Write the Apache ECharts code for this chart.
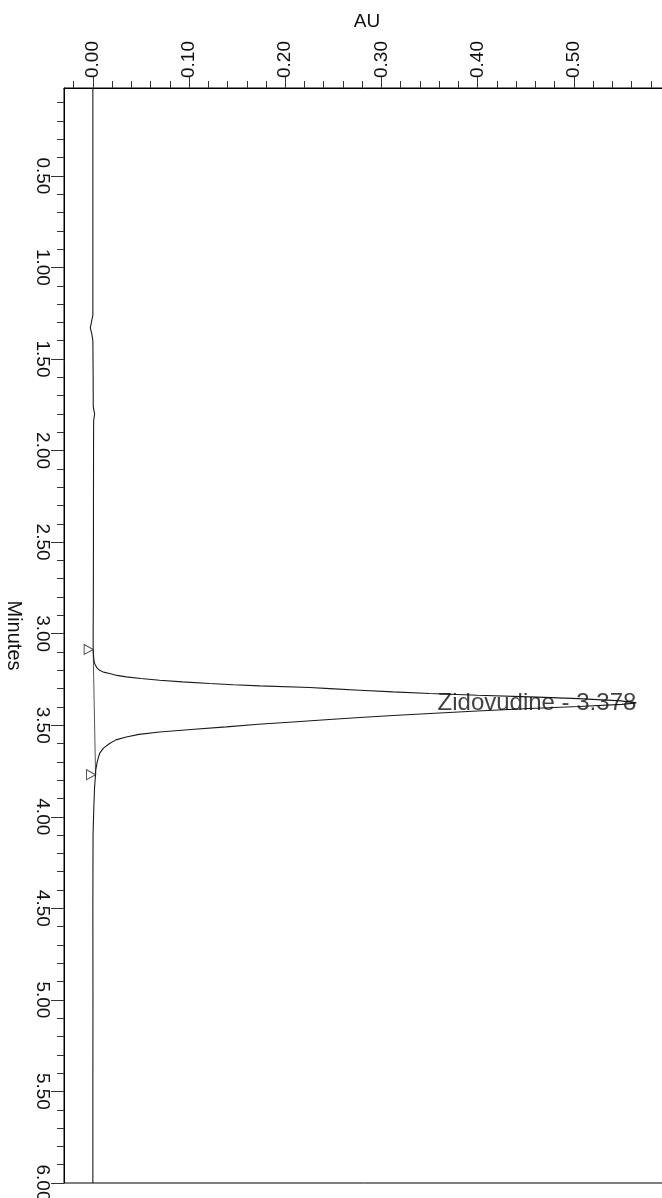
<!DOCTYPE html>
<html>
<head>
<meta charset="utf-8">
<title>Zidovudine chromatogram</title>
<script src="https://cdn.jsdelivr.net/npm/echarts@6/dist/echarts.min.js"></script>
<style>
  html, body { margin: 0; padding: 0; background: #fff; }
  #chart { width: 662px; height: 1198px; }
</style>
</head>
<body>
<div id="chart"></div>
<script>
// Retention time (min) and detector response (AU) of the trace
const timeMin = [
  0.02, 0.50, 1.00, 1.20, 1.26, 1.30, 1.33, 1.36, 1.40, 1.60, 1.76, 1.80, 1.84,
  2.00, 2.50, 2.80, 3.00, 3.086, 3.14, 3.163, 3.185, 3.200, 3.210, 3.218, 3.228,
  3.236, 3.245, 3.254, 3.263, 3.272, 3.279, 3.285, 3.294, 3.300, 3.309, 3.318,
  3.327, 3.336, 3.345, 3.355, 3.367, 3.378, 3.386, 3.398, 3.409, 3.422, 3.436,
  3.447, 3.458, 3.470, 3.482, 3.495, 3.509, 3.523, 3.537, 3.550, 3.564, 3.580,
  3.600, 3.625, 3.654, 3.700, 3.746, 3.770, 3.837, 3.950, 4.100, 4.500, 5.000,
  5.500, 6.000
];
const absAU = [
  0.0000, 0.0000, 0.0000, 0.0000, 0.0000, -0.0015, -0.0027, -0.0012, 0.0000, 0.0003, 0.0004, 0.0018, 0.0008,
  0.0007, 0.0006, 0.0005, 0.0003, 0.0003, 0.0010, 0.0018, 0.0040, 0.0070, 0.0110, 0.0174, 0.0250,
  0.0347, 0.0500, 0.0694, 0.0930, 0.1214, 0.1460, 0.1735, 0.2255, 0.2463, 0.2775, 0.3120,
  0.3504, 0.4000, 0.4545, 0.5050, 0.5490, 0.5650, 0.5500, 0.5050, 0.4545, 0.4000, 0.3504,
  0.3120, 0.2775, 0.2420, 0.2081, 0.1720, 0.1387, 0.1020, 0.0694, 0.0480, 0.0347, 0.0240,
  0.0174, 0.0110, 0.0070, 0.0045, 0.0030, 0.0028, 0.0018, 0.0010, 0.0002, 0.0000, 0.0001,
  0.0000, 0.0000
];

// Peak identification
const peakName = 'Zidovudine';
const peakTime = 3.378;
const peakAU = 0.5650;

// Integration start / end points [time, AU]
const peakStart = [3.086, 0.0003];
const peakEnd = [3.770, 0.0028];

// Axis ticks
const auLabels = [0.00, 0.10, 0.20, 0.30, 0.40, 0.50];
const auMinor = [-0.02, 0.02, 0.04, 0.06, 0.08, 0.12, 0.14, 0.16, 0.18, 0.22, 0.24, 0.26, 0.28,
  0.32, 0.34, 0.36, 0.38, 0.42, 0.44, 0.46, 0.48, 0.52, 0.54, 0.56, 0.58];
const minLabels = [0.50, 1.00, 1.50, 2.00, 2.50, 3.00, 3.50, 4.00, 4.50, 5.00, 5.50, 6.00];
const minMinor = [0.1, 0.2, 0.3, 0.4, 0.6, 0.7, 0.8, 0.9, 1.1, 1.2, 1.3, 1.4, 1.6, 1.7, 1.8, 1.9,
  2.1, 2.2, 2.3, 2.4, 2.6, 2.7, 2.8, 2.9, 3.1, 3.2, 3.3, 3.4, 3.6, 3.7, 3.8, 3.9,
  4.1, 4.2, 4.3, 4.4, 4.6, 4.7, 4.8, 4.9, 5.1, 5.2, 5.3, 5.4, 5.6, 5.7, 5.8, 5.9];

const AU_MIN = -0.03, AU_MAX = 0.6;
const T_MIN = 0.02, T_MAX = 6.0;

const font = '"Liberation Sans", Arial, sans-serif';
const ink = '#111';

const trace = timeMin.map((t, i) => [absAU[i], t]);

const chart = echarts.init(document.getElementById('chart'), null, { renderer: 'canvas' });
chart.setOption({
  animation: false,
  backgroundColor: '#fff',
  grid: {
    left: 64, top: 88, right: -8, bottom: 15,
    outerBoundsMode: 'none', containLabel: false,
    show: true, borderColor: '#000', borderWidth: 1, backgroundColor: 'transparent'
  },
  xAxis: [
    {
      type: 'value', position: 'top', min: AU_MIN, max: AU_MAX,
      name: 'AU', nameLocation: 'middle', nameGap: 66, nameMoveOverlap: false,
      nameTextStyle: { fontFamily: font, fontSize: 19, color: ink, align: 'center', verticalAlign: 'middle' },
      axisLine: { show: true, onZero: false, lineStyle: { color: '#000', width: 1 } },
      splitLine: { show: false },
      axisTick: { show: true, customValues: auLabels, length: 11, lineStyle: { color: '#333' } },
      axisLabel: {
        show: true, customValues: auLabels, rotate: -90, margin: 10,
        align: 'left', verticalAlign: 'middle',
        fontFamily: font, fontSize: 19, color: ink,
        formatter: v => v.toFixed(2)
      }
    },
    {
      type: 'value', position: 'top', min: AU_MIN, max: AU_MAX,
      axisLine: { show: false, onZero: false }, splitLine: { show: false }, axisLabel: { show: false },
      axisTick: { show: true, customValues: auMinor, length: 7, lineStyle: { color: '#333' } }
    }
  ],
  yAxis: [
    {
      type: 'value', position: 'left', inverse: true, min: T_MIN, max: T_MAX,
      name: 'Minutes', nameLocation: 'middle', nameGap: 50, nameRotate: -90, nameMoveOverlap: false,
      nameTextStyle: { fontFamily: font, fontSize: 20, color: ink, align: 'center', verticalAlign: 'middle' },
      axisLine: { show: true, onZero: false, lineStyle: { color: '#000', width: 1 } },
      splitLine: { show: false },
      axisTick: { show: true, customValues: minLabels, length: 13, lineStyle: { color: '#333' } },
      axisLabel: {
        show: true, customValues: minLabels, rotate: -90, margin: 12,
        align: 'center', verticalAlign: 'top',
        fontFamily: font, fontSize: 19, color: ink,
        formatter: v => v.toFixed(2)
      }
    },
    {
      type: 'value', position: 'left', inverse: true, min: T_MIN, max: T_MAX,
      axisLine: { show: false, onZero: false }, splitLine: { show: false }, axisLabel: { show: false },
      axisTick: { show: true, customValues: minMinor, length: 7, lineStyle: { color: '#333' } }
    }
  ],
  series: [
    {
      // integration baseline under the peak
      type: 'line', xAxisIndex: 0, yAxisIndex: 0,
      data: [[peakStart[1], peakStart[0]], [peakEnd[1], peakEnd[0]]],
      showSymbol: false, silent: true,
      lineStyle: { color: '#555', width: 1 }
    },
    {
      type: 'line', xAxisIndex: 0, yAxisIndex: 0,
      data: trace,
      showSymbol: false, smooth: false, silent: true,
      lineStyle: { color: '#1a1a1a', width: 1.1 }
    },
    {
      // peak start / end markers
      type: 'scatter', xAxisIndex: 0, yAxisIndex: 0,
      data: [[peakStart[1], peakStart[0]], [peakEnd[1], peakEnd[0]]],
      symbol: 'path://M0,0L8,4.5L0,9Z', symbolSize: [9, 10], symbolOffset: [-4.5, 0],
      itemStyle: { color: '#fff', borderColor: '#222', borderWidth: 1 },
      silent: true, z: 4
    },
    {
      // peak name and retention time
      type: 'scatter', xAxisIndex: 0, yAxisIndex: 0,
      data: [[peakAU, peakTime]],
      symbolSize: 0, silent: true, z: 5,
      label: {
        show: true, position: 'left', distance: 0,
        fontFamily: font, fontSize: 24, color: ink,
        formatter: () => peakName + ' - ' + peakTime.toFixed(3)
      }
    }
  ]
});
</script>
</body>
</html>
